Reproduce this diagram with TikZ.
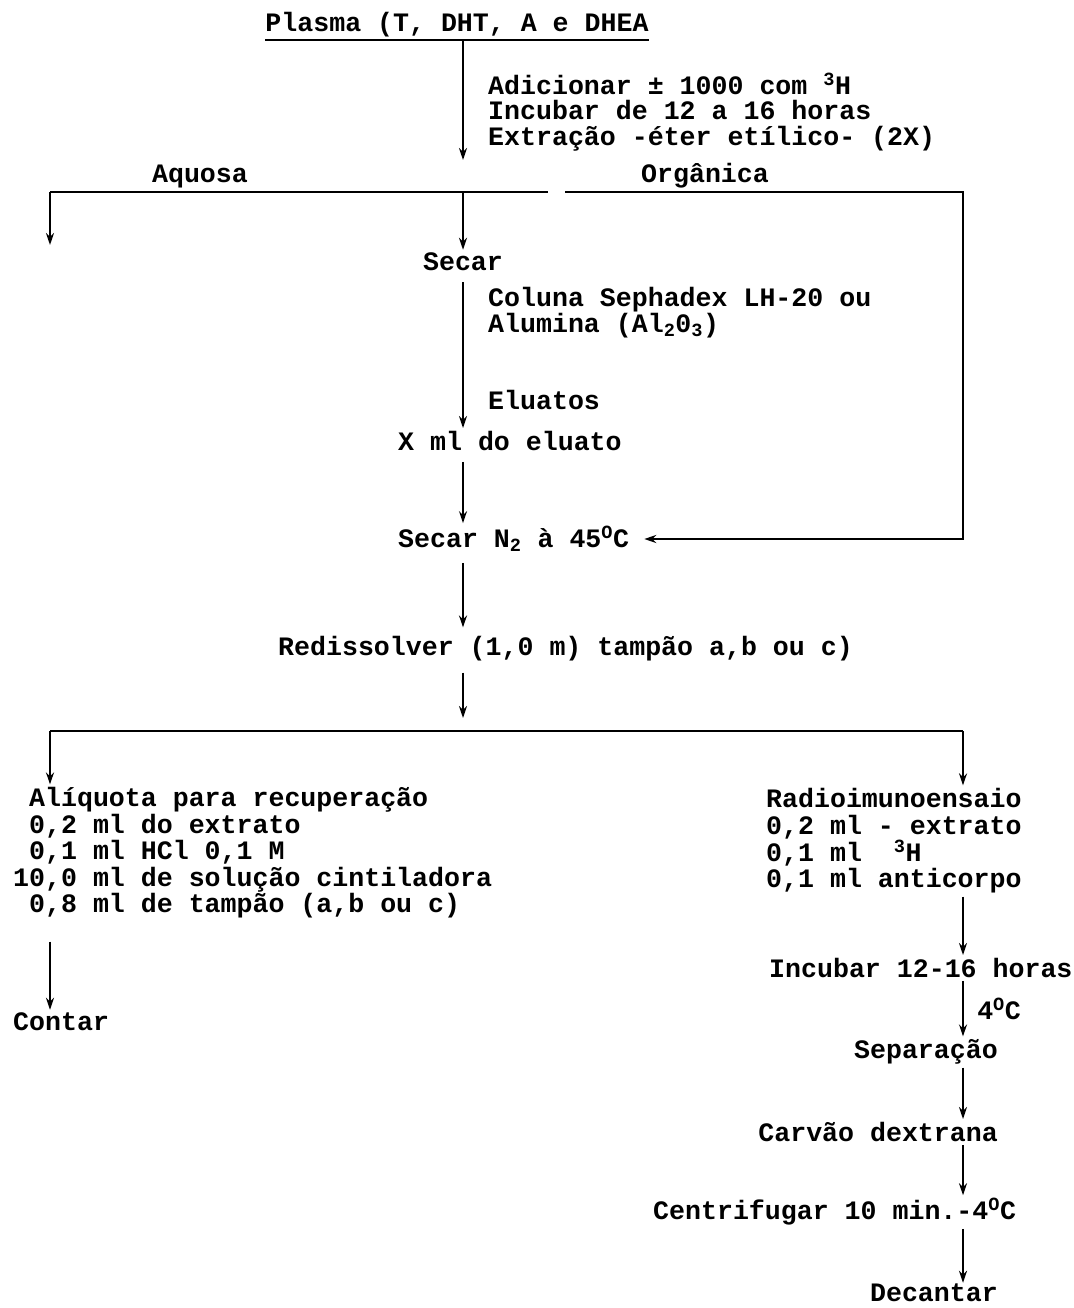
\documentclass[tikz,border=0pt]{standalone}
\usepackage{fontspec}
\setmainfont{Liberation Mono}
\usetikzlibrary{arrows.meta,positioning,calc}

\begin{document}
\begin{tikzpicture}[x=1pt,y=-1pt,
    txt/.style={font=\fontsize{26.6}{26}\selectfont\bfseries,inner sep=3pt,align=left},
    fio/.style={line width=2.5pt},
    seta/.style={fio,-{Stealth[length=12pt,width=8pt]}}]
      \useasboundingbox (0,0) rectangle (1073,1308);
      \coordinate (eixo) at (463,0);
      \node[txt,inner xsep=0pt] (plasma) at (457,25) {Plasma (T, DHT, A e DHEA};
      \draw[line width=1.8pt] ([yshift=-8pt]plasma.base west) -- ([yshift=-8pt]plasma.base east);
      \node[txt,anchor=west,font=\fontsize{26.6}{25.5}\selectfont\bfseries] (adic) at (485,112)
        {Adicionar ± 1000 com \textsuperscript{3}H\\Incubar de 12 a 16 horas\\Extração -éter etílico- (2X)};
      \coordinate (topfim) at (463,160);
      \draw[seta] (plasma.south -| eixo) -- (topfim);
      \node[txt] (aquosa) at (200,176) {Aquosa};
      \node[txt] (organica) at (705,176) {Orgânica};
      \coordinate (esq) at (50,192);
      \coordinate (meio) at (548,192);
      \coordinate (org) at (565,192);
      \coordinate (dir) at (963,192);
      \coordinate (ramo) at (463,192);
      \coordinate (aqfim) at (50,245);
      \draw[fio] (esq) -- (meio);
      \draw[seta] (esq) -- (aqfim);
      \node[txt] (secar) at (463,262) {Secar};
      \draw[seta] (ramo) -- (secar.north);
      \node[txt,anchor=west,font=\fontsize{26.6}{24}\selectfont\bfseries] (coluna) at (485,313)
        {Coluna Sephadex LH-20 ou\\Alumina (Al\textsubscript{2}0\textsubscript{3})};
      \node[txt,anchor=west] (eluatos) at (485,400) {Eluatos};
      \node[txt,anchor=west] (xml) at (395,441) {X ml do eluato};
      \draw[seta,shorten <=8pt] (secar.south -| eixo) -- (xml.north -| eixo);
      \node[txt,anchor=west] (secarn) at (395,539) {Secar N\textsubscript{2} à 45\textsuperscript{O}C};
      \draw[seta,shorten <=8pt] (xml.south -| eixo) -- (secarn.north -| eixo);
      \draw[seta,shorten >=12pt] (org) -- (dir) |- (secarn.east);
      \node[txt,anchor=west] (redis) at (275,649) {Redissolver (1,0 m) tampão a,b ou c)};
      \draw[seta,shorten <=8pt,shorten >=6pt] (secarn.south -| eixo) -- (redis.north -| eixo);
      \coordinate (b1) at (50,731);
      \coordinate (b2) at (963,731);
      \coordinate (bfim) at (463,718);
      \draw[seta,shorten <=8pt] (redis.south -| eixo) -- (bfim);
      \draw[fio] (b1) -- (b2);
      \node[txt,anchor=west,font=\fontsize{26.6}{26.5}\selectfont\bfseries] (aliq) at (10,853)
        {\phantom{1}Alíquota para recuperação\\\phantom{1}0,2 ml do extrato\\\phantom{1}0,1 ml HCl 0,1 M\\10,0 ml de solução cintiladora\\\phantom{1}0,8 ml de tampão (a,b ou c)};
      \draw[seta] (b1) -- (aliq.north -| b1);
      \node[txt,anchor=west] (contar) at (10,1022) {Contar};
      \draw[seta,shorten <=20pt] (aliq.south -| b1) -- (contar.north -| b1);
      \node[txt,anchor=west,font=\fontsize{26.6}{26.7}\selectfont\bfseries] (radio) at (763,841)
        {Radioimunoensaio\\0,2 ml - extrato\\0,1 ml\phantom{00}\textsuperscript{3}H\\0,1 ml anticorpo};
      \draw[seta] (b2) -- (radio.north -| b2);
      \node[txt,anchor=west] (incub) at (766,968) {Incubar 12-16 horas};
      \draw[seta] (radio.south -| b2) -- (incub.north -| b2);
      \node[txt,anchor=east] (separ) at (1001,1052) {Separação};
      \draw[seta] (incub.south -| b2) -- node[txt,right=10pt] (temp) {4\textsuperscript{O}C} (separ.north -| b2);
      \node[txt,anchor=east] (carvao) at (1001,1132) {Carvão dextrana};
      \draw[seta] (separ.south -| b2) -- (carvao.north -| b2);
      \node[txt,anchor=west] (centrif) at (650,1212) {Centrifugar 10 min.-4\textsuperscript{O}C};
      \draw[seta] (carvao.south -| b2) -- (centrif.north -| b2);
      \node[txt,anchor=east,inner ysep=1pt] (decant) at (1001,1293) {Decantar};
      \draw[seta] (centrif.south -| b2) -- (decant.north -| b2);
    \end{tikzpicture}
\end{document}
